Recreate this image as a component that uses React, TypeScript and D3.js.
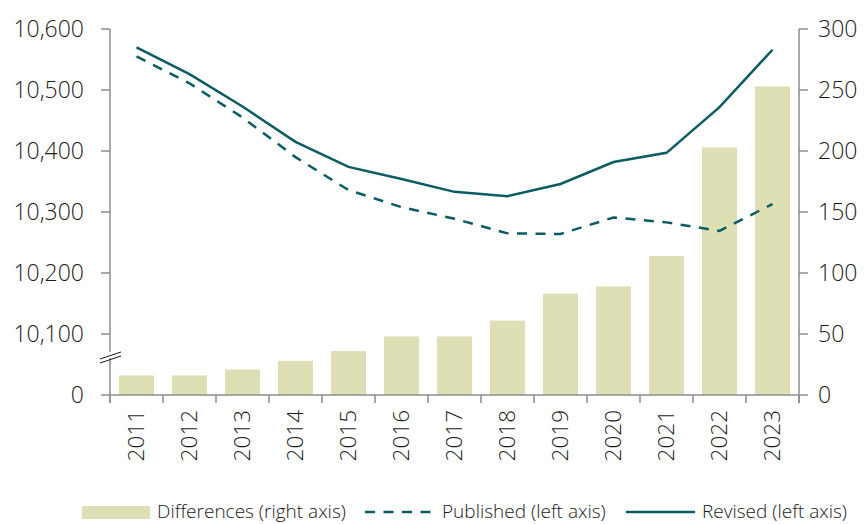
import React from 'react';
import * as d3 from 'd3';

const years = ['2011','2012','2013','2014','2015','2016','2017','2018','2019','2020','2021','2022','2023'];
const differences = [16, 16, 21, 28, 36, 48, 48, 61, 83, 89, 114, 203, 253];
const published = [10555, 10511, 10455, 10390, 10336, 10308, 10289, 10265, 10264, 10291, 10283, 10269, 10313];
const revised = [10570, 10526, 10473, 10415, 10374, 10354, 10333, 10326, 10346, 10382, 10397, 10472, 10566];
const leftTicks = [10000, 10100, 10200, 10300, 10400, 10500, 10600];
const rightTicks = [0, 50, 100, 150, 200, 250, 300];
const legendLabels = ['Differences (right axis)', 'Published (left axis)', 'Revised (left axis)'];

const W = 866, H = 524;
const L = 110, R = 799, T = 29, B = 395;
const BAR = '#dedfb4';
const LINE = '#0b5b63';
const AXIS = '#8c8c8c';
const TEXT = '#1a1a1a';
const FONT = '"Open Sans", sans-serif';
const DASH = '10,8.5';
const LEG_Y = 512;

export default function App() {
  const x = d3.scaleBand<string>().domain(years).range([L, R]).paddingInner(0.34).paddingOuter(0.17);
  const step = (R - L) / years.length;
  const yL = d3.scaleLinear().domain([10000, 10600]).range([B, T]);
  const yR = d3.scaleLinear().domain([0, 300]).range([B, T]);
  const fmt = d3.format(',');
  const lineGen = (vals: number[]) =>
    d3.line<number>().x((_, i) => (x(years[i]) as number) + x.bandwidth() / 2).y((v) => yL(v))(vals) as string;

  return (
    <svg width={W} height={H} style={{ position: 'absolute', left: 0, top: 0, fontFamily: FONT }}>
      <rect x={0} y={0} width={W} height={H} fill="#fff" />
      {differences.map((d, i) => (
        <rect key={years[i]} x={x(years[i])} y={yR(d)} width={x.bandwidth()} height={B - yR(d)} fill={BAR} />
      ))}
      <path d={lineGen(published)} fill="none" stroke={LINE} strokeWidth={2.5} strokeDasharray={DASH} />
      <path d={lineGen(revised)} fill="none" stroke={LINE} strokeWidth={2.5} />

      {/* axes */}
      <line x1={L} x2={L} y1={T} y2={B + 8} stroke={AXIS} strokeWidth={1.5} />
      <line x1={R} x2={R} y1={T} y2={B + 8} stroke={AXIS} strokeWidth={1.5} />
      <line x1={L} x2={R} y1={B} y2={B} stroke={AXIS} strokeWidth={1.5} />
      {d3.range(years.length + 1).map((i) => (
        <line key={'xt' + i} x1={L + i * step} x2={L + i * step} y1={B} y2={B + 8} stroke={AXIS} strokeWidth={1.5} />
      ))}
      {leftTicks.map((t) => (
        <g key={'l' + t}>
          <line x1={L - 9} x2={L} y1={yL(t)} y2={yL(t)} stroke={AXIS} strokeWidth={1.5} />
          <text x={84} y={yL(t)} dy="0.35em" textAnchor="end" fontSize={23} fill={TEXT} fontWeight={300}>
            {t === 10000 ? '0' : fmt(t)}
          </text>
        </g>
      ))}
      {rightTicks.map((t) => (
        <g key={'r' + t}>
          <line x1={R} x2={R + 9} y1={yR(t)} y2={yR(t)} stroke={AXIS} strokeWidth={1.5} />
          <text x={818} y={yR(t)} dy="0.35em" textAnchor="start" fontSize={23} fill={TEXT} fontWeight={300}>
            {t}
          </text>
        </g>
      ))}
      {/* axis break */}
      <rect x={L - 2} y={352} width={4} height={6} fill="#fff" />
      <line x1={100} y1={359} x2={121} y2={352} stroke={TEXT} strokeWidth={1} />
      <line x1={100} y1={363} x2={121} y2={356} stroke={TEXT} strokeWidth={1} />

      {years.map((yr) => (
        <text key={'yl' + yr} transform={`translate(${(x(yr) as number) + x.bandwidth() / 2},410) rotate(-90)`}
          dy="0.35em" textAnchor="end" fontSize={22.5} fill={TEXT} fontWeight={300}>
          {yr}
        </text>
      ))}

      {/* legend */}
      <rect x={82} y={LEG_Y - 6} width={68} height={13} fill={BAR} />
      <text x={157} y={LEG_Y} dy="0.33em" fontSize={19} fill={TEXT} fontWeight={300}>{legendLabels[0]}</text>
      <line x1={365} x2={432} y1={LEG_Y} y2={LEG_Y} stroke={LINE} strokeWidth={2.5} strokeDasharray={DASH} />
      <text x={442} y={LEG_Y} dy="0.33em" fontSize={19} fill={TEXT} fontWeight={300}>{legendLabels[1]}</text>
      <line x1={626} x2={695} y1={LEG_Y} y2={LEG_Y} stroke={LINE} strokeWidth={2.5} />
      <text x={702} y={LEG_Y} dy="0.33em" fontSize={19} fill={TEXT} fontWeight={300}>{legendLabels[2]}</text>
    </svg>
  );
}
